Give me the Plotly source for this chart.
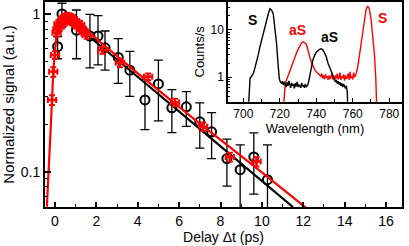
import plotly.graph_objects as go

# ---------------- main panel data ----------------
delay_black = [0.13, 0.34, 1.04, 1.69, 2.08, 2.42, 3.06, 3.62, 4.35, 5.0, 5.65, 6.35, 7.0, 7.57, 8.31, 8.95, 9.61, 10.27]
signal_black = [0.62, 1.0, 0.79, 0.725, 0.725, 0.61, 0.53, 0.44, 0.285, 0.36, 0.254, 0.258, 0.207, 0.179, 0.121, 0.103, 0.124, 0.089]
err_black = [0.1, 0.17, 0.27, 0.27, 0.25, 0.17, 0.167, 0.14, 0.1, 0.15, 0.077, 0.064, 0.066, 0.058, 0.04, 0.045, 0.052, 0.059]

delay_red = [-0.14, -0.08, 0.0, 0.08, 0.12, 0.17, 0.22, 0.27, 0.32, 0.37, 0.42, 0.47, 0.52, 0.57, 0.62, 0.67,
             0.72, 0.77, 0.82, 0.87, 0.92, 0.97, 1.02, 1.08, 1.15, 1.22, 1.3, 1.38, 1.53, 2.3, 3.14, 4.5, 5.8,
             7.16, 8.45, 9.74]
signal_red = [0.285, 0.43, 0.55, 0.76, 0.8, 0.86, 0.83, 0.88, 0.9, 0.87, 0.93, 0.95, 0.92, 0.97, 0.94, 0.96,
              0.92, 0.95, 0.9, 0.93, 0.88, 0.9, 0.86, 0.88, 0.84, 0.85, 0.8, 0.78, 0.736, 0.59, 0.49, 0.40, 0.275,
              0.193, 0.124, 0.116]
err_red = [0.02, 0.03, 0.03, 0.04, 0.05, 0.05, 0.05, 0.05, 0.05, 0.05, 0.05, 0.05, 0.05, 0.05, 0.05, 0.05,
           0.05, 0.05, 0.05, 0.05, 0.05, 0.05, 0.05, 0.05, 0.05, 0.05, 0.05, 0.05, 0.04, 0.03, 0.03, 0.02, 0.015,
           0.012, 0.008, 0.008]

fit_red_t = [-0.39, -0.3, -0.2, -0.14, -0.08, 0.0, 0.08, 0.15, 0.25, 0.4, 0.6, 1.0, 2.17, 4.0, 7.0, 10.0, 12.2]
fit_red_v = [0.06, 0.105, 0.195, 0.285, 0.43, 0.57, 0.74, 0.86, 0.95, 0.99, 0.98, 0.9, 0.667, 0.42, 0.202, 0.099, 0.058]

fit_black_t = [0.35, 2.17, 4.5, 7.0, 9.0, 11.5]
fit_black_v = [1.0, 0.636, 0.352, 0.187, 0.113, 0.0597]

x_ticks = [0, 2, 4, 6, 8, 10, 12, 14, 16]
y_ticks = [0.1, 1]

# ---------------- inset data ----------------
wl_black = [702.7, 703.2, 703.7, 704.5, 705.5, 706.4, 707.3, 708.2, 709.1, 710.0, 710.9, 711.8, 712.8, 713.7,
            714.6, 715.5, 716.4, 717.3, 718.2, 719.0, 719.7, 720.3,
            721.0, 721.5, 722.0, 722.5, 723.0, 723.5, 724.0, 724.5, 725.0, 725.5, 726.0, 726.5, 727.0, 727.5,
            728.0, 728.5, 729.0, 729.5, 730.0, 730.5, 731.0, 731.5, 732.0, 732.5, 733.0, 733.5, 734.0, 734.5,
            735.0, 735.5, 736.3, 737.2, 738.1, 739.1, 740.0, 740.9, 741.8, 742.7, 743.6, 744.5, 745.5, 746.4,
            747.3, 748.2, 749.1, 750.0, 750.5, 751.0, 751.5, 752.0, 752.5, 753.0, 753.5, 754.0, 754.5, 755.0,
            755.5, 756.0, 756.5, 757.0, 757.3]
cnt_black = [0.2, 0.7, 0.95, 1.05, 1.2, 1.6, 2.1, 3.0, 4.4, 6.2, 8.4, 11.5, 16, 22,
             28, 26, 22, 12, 5.3, 2.0, 0.95, 0.8,
             0.75, 0.82, 0.68, 0.8, 0.7, 0.62, 0.78, 0.66, 0.84, 0.7, 0.6, 0.76, 0.66, 0.72,
             0.58, 0.74, 0.64, 0.8, 0.62, 0.7, 0.66, 0.6, 0.76, 0.64, 0.68, 0.6, 0.72, 0.62,
             0.66, 0.72, 1.0, 1.65, 2.3, 2.9, 3.4, 3.6, 3.9, 4.0, 3.8, 3.3, 2.7, 2.0,
             1.6, 1.3, 1.05, 0.9, 0.8, 0.88, 0.74, 0.82, 0.7, 0.78, 0.66, 0.74, 0.62, 0.72,
             0.64, 0.58, 0.66, 0.5, 0.2]

wl_red = [721.9, 722.5, 723.0, 723.7, 724.6, 725.5, 726.4, 727.3, 728.2, 729.1, 730.0, 731.0, 731.9, 732.8,
          733.5, 734.2, 735.0, 735.5, 736.4, 737.3, 738.2, 739.1, 740.0, 740.9, 741.9,
          742.5, 743.0, 743.5, 744.0, 744.5, 745.0, 745.5, 746.0, 746.5, 747.0, 747.5, 748.0, 748.5, 749.0,
          749.5, 750.0, 750.5, 751.0, 751.5, 752.0, 752.5, 753.0, 753.5, 754.0, 754.5, 755.0, 755.5, 756.0,
          756.5, 757.0, 757.5, 758.0, 758.5, 759.0, 759.5, 760.0, 760.5, 761.0, 761.9, 762.8, 763.7, 764.6,
          765.5, 766.4, 767.3, 768.2, 769.1, 770.1, 771.0, 771.9, 772.6, 773.2]
cnt_red = [0.2, 0.5, 0.75, 0.88, 1.1, 1.45, 1.8, 2.25, 2.7, 3.2, 3.9, 4.8, 5.3, 5.6,
           5.5, 5.2, 4.4, 3.5, 2.7, 2.1, 1.7, 1.45, 1.3, 1.2, 1.15,
           1.05, 1.2, 0.95, 1.1, 0.9, 1.15, 0.98, 1.05, 0.88, 1.1, 0.92, 1.0, 1.2, 0.9, 1.05,
           0.85, 1.1, 0.95, 1.2, 0.9, 1.0, 1.25, 0.88, 1.05, 0.95, 1.15, 0.85, 1.1, 0.92, 1.0,
           1.2, 0.88, 1.3, 0.95, 1.05, 0.9, 1.25, 1.0, 1.2, 1.7, 3.0, 6.0, 11, 19, 27, 32, 28, 16,
           7.5, 3.0, 1.0, 0.2]

inset_x_ticks = [700, 720, 740, 760, 780]
inset_y_ticks = [1, 10]

FONT = "Liberation Sans, Arial, sans-serif"

fig = go.Figure()

# black data with error bars
fig.add_trace(go.Scatter(
    x=delay_black, y=signal_black, mode="markers",
    marker=dict(symbol="circle-open", size=9, color="black", line=dict(width=2, color="black")),
    error_y=dict(type="data", array=err_black, visible=True, color="black", thickness=1.3, width=4.5),
    xaxis="x", yaxis="y", showlegend=False, hoverinfo="skip"))
fig.add_trace(go.Scatter(
    x=fit_black_t, y=fit_black_v, mode="lines",
    line=dict(color="black", width=2.2), xaxis="x", yaxis="y", showlegend=False, hoverinfo="skip"))

# red fit and data
fig.add_trace(go.Scatter(
    x=fit_red_t, y=fit_red_v, mode="lines", line=dict(color="#ff0000", width=2.2, shape="spline", smoothing=0.6),
    xaxis="x", yaxis="y", showlegend=False, hoverinfo="skip"))
fig.add_trace(go.Scatter(
    x=delay_red, y=signal_red, mode="markers",
    marker=dict(symbol="cross", size=6, color="#ff0000"),
    error_x=dict(type="constant", value=0.2, visible=True, color="#ff0000", thickness=2, width=3),
    error_y=dict(type="data", array=err_red, visible=True, color="#ff0000", thickness=2, width=3),
    xaxis="x", yaxis="y", showlegend=False, hoverinfo="skip"))

# inset spectra
fig.add_trace(go.Scatter(x=wl_red, y=cnt_red, mode="lines", line=dict(color="#ff0000", width=1.4),
                         xaxis="x2", yaxis="y2", showlegend=False, hoverinfo="skip"))
fig.add_trace(go.Scatter(x=wl_black, y=cnt_black, mode="lines", line=dict(color="black", width=1.4),
                         xaxis="x2", yaxis="y2", showlegend=False, hoverinfo="skip"))

axis_common = dict(showline=True, linecolor="black", mirror=True, showgrid=False, zeroline=False,
                   ticks="inside", tickcolor="black")

fig.update_layout(
    width=409, height=246,
    margin=dict(l=45, r=7, t=2, b=39, autoexpand=False),
    paper_bgcolor="white", plot_bgcolor="white",
    font=dict(family=FONT, color="black"),
    xaxis=dict(axis_common, domain=[0, 1], range=[-0.48, 16.77], tickvals=x_ticks, ticklen=5, tickwidth=1.5,
               linewidth=1.8, tickfont=dict(size=14),
               minor=dict(ticks="inside", ticklen=3, tickwidth=1.2, dtick=1, tickcolor="black"),
               title=dict(text="Delay \u0394t (ps)", font=dict(size=14), standoff=2), anchor="y"),
    yaxis=dict(axis_common, domain=[0, 1], type="log", range=[-1.224, 0.076], tickvals=y_ticks,
               ticktext=["0.1", "1"], ticklen=6, tickwidth=1.5, linewidth=1.8, tickfont=dict(size=14),
               minor=dict(ticks="inside", ticklen=3, tickwidth=1.2, tickcolor="black",
                          tickvals=[0.06, 0.07, 0.08, 0.09, 0.2, 0.3, 0.4, 0.5, 0.6, 0.7, 0.8, 0.9]),
               title=dict(text="Normalized signal (a.u.)", font=dict(size=15), standoff=4), anchor="x"),
    xaxis2=dict(axis_common, domain=[0.5126, 1.0], range=[691.6, 787], tickvals=inset_x_ticks, ticklen=4,
                linewidth=1.5, tickfont=dict(size=12),
                minor=dict(ticks="inside", ticklen=2.5, dtick=10, tickcolor="black"),
                title=dict(text="Wavelength (nm)", font=dict(size=13), standoff=2), anchor="y2"),
    yaxis2=dict(axis_common, domain=[0.5137, 1.0], type="log", range=[-0.516, 1.59], tickvals=inset_y_ticks,
                ticktext=["1", "10"], ticklen=4, linewidth=1.5, tickfont=dict(size=12),
                minor=dict(ticks="inside", ticklen=2.5, tickcolor="black",
                           tickvals=[0.4, 0.5, 0.6, 0.7, 0.8, 0.9, 2, 3, 4, 5, 6, 7, 8, 9, 20, 30]),
                title=dict(text="Counts/s", font=dict(size=13), standoff=3), anchor="x2"),
    annotations=[
        dict(x=705.3, y=1.21, xref="x2", yref="y2", text="<b>S</b>", showarrow=False,
             font=dict(size=14, color="black", family=FONT)),
        dict(x=729.9, y=1.0, xref="x2", yref="y2", text="<b>aS</b>", showarrow=False,
             font=dict(size=14, color="#ff0000", family=FONT)),
        dict(x=747.4, y=0.852, xref="x2", yref="y2", text="<b>aS</b>", showarrow=False,
             font=dict(size=14, color="black", family=FONT)),
        dict(x=776.3, y=1.254, xref="x2", yref="y2", text="<b>S</b>", showarrow=False,
             font=dict(size=14, color="#ff0000", family=FONT)),
    ],
)

fig.write_html("out.html", config={"displayModeBar": False},
               post_script="document.body.style.margin='0';document.body.style.padding='0';document.body.style.overflow='hidden';")
